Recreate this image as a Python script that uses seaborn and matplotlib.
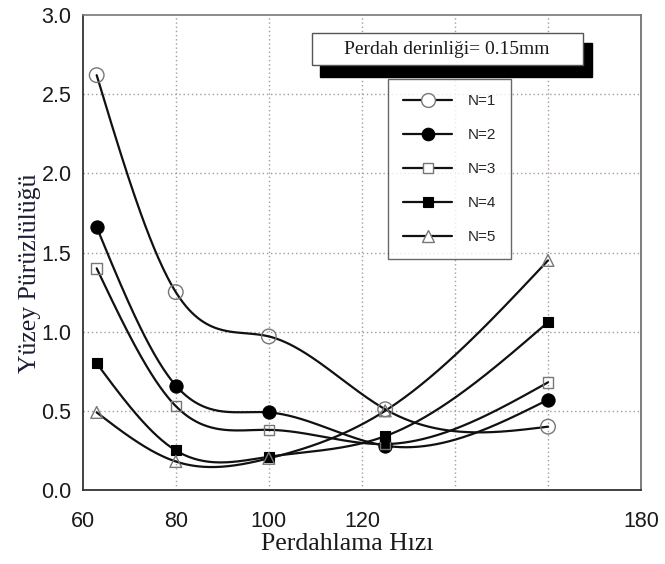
import numpy as np
import pandas as pd
import matplotlib
matplotlib.use("Agg")
import matplotlib.pyplot as plt
from matplotlib.lines import Line2D
from matplotlib.patches import Rectangle
from matplotlib.ticker import FixedLocator, MultipleLocator
import seaborn as sns

# ---- data ----
speed = [63, 80, 100, 125, 160]
n1 = [2.62, 1.25, 0.97, 0.51, 0.40]
n2 = [1.66, 0.66, 0.49, 0.28, 0.57]
n3 = [1.40, 0.53, 0.38, 0.29, 0.68]
n4 = [0.80, 0.25, 0.21, 0.34, 1.06]
n5 = [0.49, 0.18, 0.20, 0.50, 1.45]
series_names = ["N=1", "N=2", "N=3", "N=4", "N=5"]
series_vals = [n1, n2, n3, n4, n5]
x_ticks = [60, 80, 100, 120, 140, 160, 180]
x_tick_labels = ["60", "80", "100", "120", "", "", "180"]
y_ticks = [0.0, 0.5, 1.0, 1.5, 2.0, 2.5, 3.0]
y_tick_labels = ["0.0", "0.5", "1.0", "1.5", "2.0", "2.5", "3.0"]
box_text = "Perdah derinliği= 0.15mm"
x_label = "Perdahlama Hızı"
y_label = "Yüzey Pürüzlülüğü"

# marker styles (marker, filled, size pt)
styles = [("o", False, 10.5), ("o", True, 9.5), ("s", False, 7.5),
          ("s", True, 7.2), ("^", False, 8.5)]


def natural_spline(x, y, n=300):
    x = np.asarray(x, float)
    y = np.asarray(y, float)
    m = len(x)
    h = np.diff(x)
    A = np.zeros((m, m))
    b = np.zeros(m)
    A[0, 0] = 1
    A[-1, -1] = 1
    for i in range(1, m - 1):
        A[i, i - 1] = h[i - 1]
        A[i, i] = 2 * (h[i - 1] + h[i])
        A[i, i + 1] = h[i]
        b[i] = 3 * ((y[i + 1] - y[i]) / h[i] - (y[i] - y[i - 1]) / h[i - 1])
    c = np.linalg.solve(A, b)
    bc = (y[1:] - y[:-1]) / h - h * (2 * c[:-1] + c[1:]) / 3
    d = (c[1:] - c[:-1]) / (3 * h)
    xs = np.linspace(x[0], x[-1], n)
    idx = np.clip(np.searchsorted(x, xs) - 1, 0, m - 2)
    dx = xs - x[idx]
    ys = y[idx] + bc[idx] * dx + c[idx] * dx ** 2 + d[idx] * dx ** 3
    return xs, ys


sns.set_style("white")
plt.rcParams["font.family"] = ["Liberation Sans", "DejaVu Sans"]

fig = plt.figure(figsize=(6.65, 5.64), dpi=100)
ax = fig.add_axes([0.1244, 0.1312, 0.8396, 0.8422])

# grid
grid_c = "#a898a8"
for gx in [80, 100, 120, 140, 160]:
    ax.axvline(gx, color=grid_c, lw=1.0, ls=(0, (1, 2)), zorder=0)
for gy in [0.5, 1.0, 1.5, 2.0, 2.5]:
    ax.axhline(gy, color=grid_c, lw=1.0, ls=(0, (1, 2)), zorder=0)

handles = []
for name, vals, (mk, filled, ms) in zip(series_names, series_vals, styles):
    xs, ys = natural_spline(speed, vals)
    sns.lineplot(x=xs, y=ys, ax=ax, color="#111111", lw=1.6, sort=False,
                 zorder=2, legend=False)
    df = pd.DataFrame({"x": speed, "y": vals})
    if filled:
        sns.scatterplot(data=df, x="x", y="y", ax=ax, marker=mk, s=ms ** 2,
                        color="black", edgecolor="black", linewidth=0.8,
                        zorder=3, legend=False)
    else:
        sns.scatterplot(data=df, x="x", y="y", ax=ax, marker=mk, s=ms ** 2,
                        facecolor="none", edgecolor="#777777", linewidth=1.0,
                        zorder=3, legend=False)
    handles.append(Line2D([], [], color="#111111", lw=1.6, marker=mk,
                          markersize=ms * 0.95,
                          markerfacecolor="black" if filled else "white",
                          markeredgecolor="black" if filled else "#777777",
                          markeredgewidth=0.8 if filled else 1.0,
                          label=name))

ax.set_xlim(60, 180)
ax.set_ylim(0, 3.0)
ax.xaxis.set_major_locator(FixedLocator(x_ticks))
ax.set_xticklabels(x_tick_labels)
ax.xaxis.set_minor_locator(MultipleLocator(10))
ax.yaxis.set_major_locator(FixedLocator(y_ticks))
ax.set_yticklabels(y_tick_labels)
ax.yaxis.set_minor_locator(MultipleLocator(0.25))
ax.tick_params(axis="both", which="major", direction="out", length=7,
               width=1.0, color="#333333", labelsize=15.5, labelcolor="#1a1a1a")
ax.tick_params(axis="both", which="minor", direction="out", length=3,
               width=0.8, color="#555555")
ax.tick_params(axis="x", which="major", pad=8)
ax.tick_params(axis="y", which="major", pad=1)

for side in ["left", "bottom"]:
    ax.spines[side].set_color("#333333")
    ax.spines[side].set_linewidth(1.3)
ax.spines["right"].set_color("#666666")
ax.spines["right"].set_linewidth(1.2)
ax.spines["top"].set_color("#777777")
ax.spines["top"].set_linewidth(1.2)
ax.spines["top"].set_linestyle((0, (2, 1)))

ax.set_xlabel(x_label, family=["Liberation Serif", "DejaVu Serif"],
              fontsize=18.5, color="#1c1a18")
ax.xaxis.set_label_coords(0.474, -0.09)
ax.set_ylabel(y_label, family=["Liberation Serif", "DejaVu Serif"],
              fontsize=18.5, color="#1a1c3a")
ax.yaxis.set_label_coords(-0.075, 0.457)

# text box with shadow
ax.add_patch(Rectangle((0.425, 0.869), 0.487, 0.072, transform=ax.transAxes,
                       facecolor="black", edgecolor="black", zorder=5,
                       clip_on=False))
ax.add_patch(Rectangle((0.410, 0.8947), 0.4856, 0.0668, transform=ax.transAxes,
                       facecolor="white", edgecolor="#555555", lw=1.0,
                       zorder=6, clip_on=False))
ax.text(0.652, 0.928, box_text, transform=ax.transAxes, ha="center",
        va="center", family=["Liberation Serif", "DejaVu Serif"],
        fontsize=14, color="#1a1a1a", zorder=7)

leg = ax.legend(handles=handles, loc="upper left",
                bbox_to_anchor=(0.547, 0.865), frameon=True, fancybox=False,
                edgecolor="#444444", fontsize=11, handlelength=3.2,
                handletextpad=1.0, labelspacing=1.3, borderpad=1.0,
                borderaxespad=0.0)
leg.get_frame().set_linewidth(1.0)
leg.set_zorder(8)

fig.savefig("out.png", dpi=100, facecolor="white")
